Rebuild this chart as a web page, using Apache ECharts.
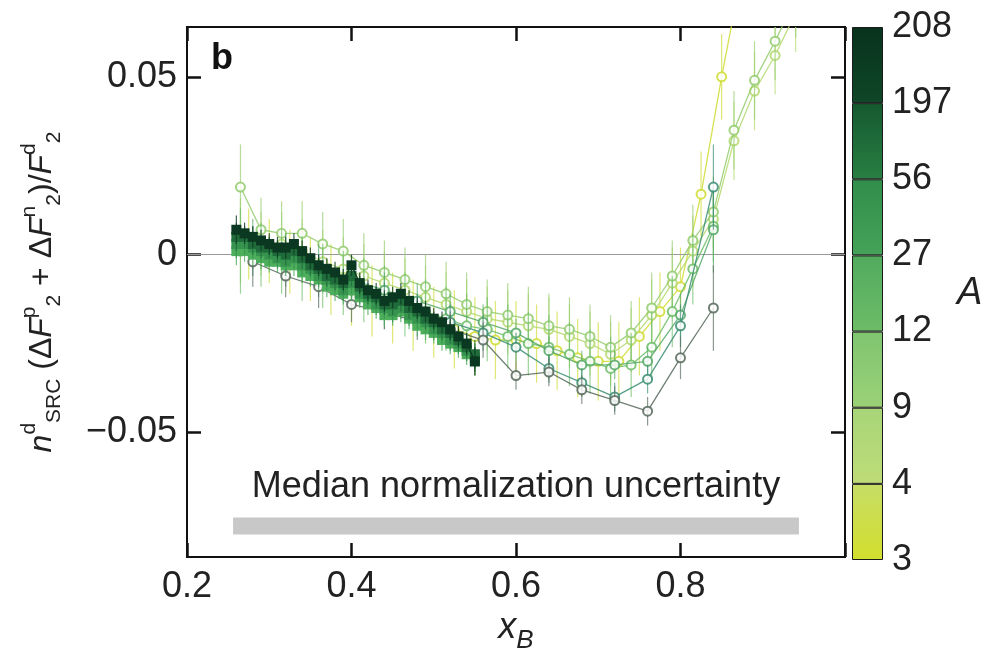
<!DOCTYPE html>
<html>
<head>
<meta charset="utf-8">
<script src="https://cdn.jsdelivr.net/npm/echarts@6/dist/echarts.min.js"></script>
<style>
  html, body { margin: 0; padding: 0; background: #fff; }
  #main { width: 987px; height: 650px; }
</style>
</head>
<body>
<div id="main"></div>
<script>
// ---- data ----
// dense data (filled squares), x_B 0.26 .. 0.55
var DENSE_X = [0.26, 0.27, 0.28, 0.29, 0.30, 0.31, 0.32, 0.33, 0.34, 0.35, 0.36, 0.37, 0.38, 0.39, 0.40,
               0.41, 0.42, 0.43, 0.44, 0.45, 0.46, 0.47, 0.48, 0.49, 0.50, 0.51, 0.52, 0.53, 0.54, 0.55];
var DENSE_208 = [0.007, 0.006, 0.005, 0.004, 0.003, 0.002, 0.002, 0.003, 0.001, -0.001, -0.003, -0.004, -0.005, -0.007, -0.003,
                 -0.008, -0.010, -0.011, -0.013, -0.012, -0.011, -0.013, -0.015, -0.016, -0.018, -0.019, -0.021, -0.023, -0.025, -0.030];
var DENSE_56 = [0.005, 0.005, 0.003, 0.002, 0.002, 0.001, 0.000, 0.001, -0.001, -0.003, -0.004, -0.006, -0.007, -0.008, -0.006,
                -0.009, -0.011, -0.012, -0.014, -0.014, -0.013, -0.015, -0.016, -0.018, -0.019, -0.021, -0.022, -0.024, -0.026, -0.028];
var DENSE_27 = [0.003, 0.003, 0.002, 0.001, 0.000, -0.001, -0.002, -0.001, -0.003, -0.004, -0.006, -0.007, -0.008, -0.010, -0.008,
                -0.011, -0.012, -0.014, -0.015, -0.016, -0.015, -0.017, -0.018, -0.019, -0.021, -0.022, -0.024, -0.025, -0.027, -0.029];
var DENSE_12 = [0.001, 0.001, 0.000, -0.001, -0.002, -0.002, -0.003, -0.003, -0.005, -0.006, -0.007, -0.009, -0.010, -0.011, -0.010,
                -0.012, -0.014, -0.015, -0.017, -0.017, -0.016, -0.018, -0.020, -0.021, -0.022, -0.024, -0.025, -0.026, -0.028, -0.030];
var DENSE_ERR = [0.004, 0.003, 0.003, 0.003, 0.003, 0.003, 0.003, 0.003, 0.003, 0.003, 0.003, 0.003, 0.003, 0.003, 0.003,
                 0.003, 0.003, 0.003, 0.003, 0.003, 0.003, 0.003, 0.003, 0.003, 0.003, 0.003, 0.003, 0.003, 0.003, 0.004];

// open circles, step 0.04
var S04_X = [0.28, 0.32, 0.36, 0.40, 0.44, 0.48, 0.52, 0.56, 0.60, 0.64, 0.68, 0.72, 0.76, 0.80, 0.84];
var S04_197 = [-0.002, -0.006, -0.009, -0.014, -0.016, -0.019, -0.021, -0.024, -0.034, -0.033, -0.038, -0.041, -0.044, -0.029, -0.015];
var S04_56 = [0.001, -0.003, -0.006, -0.010, -0.013, -0.016, -0.019, -0.022, -0.026, -0.032, -0.036, -0.040, -0.035, -0.020, 0.019];
var S04_27 = [0.003, 0.000, -0.003, -0.007, -0.010, -0.013, -0.016, -0.019, -0.022, -0.027, -0.031, -0.031, -0.030, -0.017, 0.007];
var S04_ERR = [0.007, 0.006, 0.006, 0.005, 0.005, 0.005, 0.005, 0.005, 0.004, 0.004, 0.004, 0.004, 0.004, 0.006, 0.012];

// open circles, step 0.025
var S25_X = [0.265, 0.29, 0.315, 0.34, 0.365, 0.39, 0.415, 0.44, 0.465, 0.49, 0.515, 0.54, 0.565, 0.59,
             0.615, 0.64, 0.665, 0.69, 0.715, 0.74, 0.765, 0.79, 0.815, 0.84, 0.865, 0.89, 0.915, 0.94];
var S25_4 = [0.004, 0.003, 0.003, 0.001, -0.002, -0.004, -0.006, -0.008, -0.010, -0.012, -0.014, -0.016, -0.018, -0.019,
             -0.020, -0.021, -0.023, -0.025, -0.028, -0.024, -0.017, -0.008, 0.001, 0.010, 0.032, 0.046, 0.056, 0.068];
var S25_9 = [0.019, 0.007, 0.006, 0.006, 0.003, 0.001, -0.003, -0.005, -0.007, -0.009, -0.011, -0.014, -0.016, -0.017,
             -0.018, -0.020, -0.021, -0.023, -0.026, -0.022, -0.015, -0.006, 0.004, 0.012, 0.035, 0.049, 0.060, 0.072];
var S25_12 = [0.001, 0.000, -0.002, -0.004, -0.006, -0.008, -0.010, -0.012, -0.014, -0.016, -0.018, -0.020, -0.021, -0.023,
              -0.025, -0.026, -0.028, -0.030, -0.032, -0.031, -0.026, -0.016, -0.004, 0.008];
var S25_ERR = [0.012, 0.009, 0.009, 0.009, 0.009, 0.009, 0.009, 0.009, 0.009, 0.009, 0.009, 0.009, 0.009, 0.009,
               0.009, 0.009, 0.009, 0.009, 0.009, 0.009, 0.010, 0.010, 0.010, 0.010, 0.011, 0.011, 0.011, 0.011];

// A = 3 series
var S3_X = [0.275, 0.30, 0.325, 0.35, 0.375, 0.40, 0.425, 0.45, 0.475, 0.50, 0.525, 0.55, 0.575,
            0.60, 0.625, 0.65, 0.675, 0.70, 0.725, 0.75, 0.775, 0.80, 0.825, 0.85, 0.875];
var S3_Y = [0.003, 0.001, -0.002, -0.004, -0.007, -0.010, -0.013, -0.015, -0.017, -0.019, -0.021, -0.023, -0.024,
            -0.024, -0.025, -0.027, -0.029, -0.030, -0.030, -0.023, -0.016, -0.009, 0.017, 0.050, 0.080];
var S3_ERR = [0.010, 0.009, 0.009, 0.009, 0.010, 0.010, 0.010, 0.010, 0.010, 0.010, 0.011, 0.011, 0.011,
              0.011, 0.011, 0.011, 0.011, 0.011, 0.011, 0.011, 0.011, 0.011, 0.012, 0.012, 0.012];

// normalization band: x range and y range
var BAND_X = [0.256, 0.944];
var BAND_Y = [-0.0787, -0.0739];

var Y_TICKS = [-0.05, 0, 0.05];
var X_TICK_LABELS = ['0.2', '0.4', '0.6', '0.8'];
var CB_LABELS = ['3', '4', '9', '12', '27', '56', '197', '208'];

// ---- styles ----
var FONT = 'Liberation Sans, Arial, Helvetica, sans-serif';
var CB_COLORS = [
  ['#d3df2c', '#c6dd66'],
  ['#bfdc78', '#a7d578'],
  ['#9bd177', '#7fc570'],
  ['#6dbc68', '#51ab5d'],
  ['#45a258', '#318e4b'],
  ['#287f43', '#15592f'],
  ['#0f4727', '#08321d']
];

var groups = [
  { a: 3,   x: S3_X,    y: S3_Y,      err: S3_ERR,    color: '#cfdc30', open: true },
  { a: 4,   x: S25_X,   y: S25_4,     err: S25_ERR,   color: '#b3d86d', open: true },
  { a: 9,   x: S25_X,   y: S25_9,     err: S25_ERR,   color: '#92cb6c', open: true },
  { a: 12,  x: S25_X,   y: S25_12,    err: S25_ERR,   color: '#6cbd67', open: true },
  { a: 27,  x: S04_X,   y: S04_27,    err: S04_ERR,   color: '#55a866', open: true },
  { a: 56,  x: S04_X,   y: S04_56,    err: S04_ERR,   color: '#3a8c72', open: true },
  { a: 197, x: S04_X,   y: S04_197,   err: S04_ERR,   color: '#56695b', open: true },
  { a: 12,  x: DENSE_X, y: DENSE_12,  err: DENSE_ERR, color: '#4dae5c', open: false },
  { a: 27,  x: DENSE_X, y: DENSE_27,  err: DENSE_ERR, color: '#36944f', open: false },
  { a: 56,  x: DENSE_X, y: DENSE_56,  err: DENSE_ERR, color: '#1f6b3a', open: false },
  { a: 208, x: DENSE_X, y: DENSE_208, err: DENSE_ERR, color: '#0b3820', open: false }
];

var series = [];

// zero line and normalization band (drawn first, underneath the data)
series.push({
  type: 'line',
  name: 'ref',
  xAxisIndex: 0, yAxisIndex: 0,
  data: [[BAND_X[0], BAND_Y[0]]],
  symbol: 'none',
  lineStyle: { opacity: 0 },
  z: 1,
  markLine: {
    silent: true,
    symbol: 'none',
    label: { show: false },
    lineStyle: { color: '#9a9a9a', width: 1, type: 'solid' },
    data: [{ yAxis: 0 }]
  },
  markArea: {
    silent: true,
    itemStyle: { color: '#c8c8c8' },
    label: {
      show: true,
      position: 'top',
      distance: 12,
      color: '#222',
      fontSize: 36,
      fontFamily: FONT
    },
    data: [[
      { name: 'Median normalization uncertainty', coord: [BAND_X[0], BAND_Y[1]] },
      { coord: [BAND_X[1], BAND_Y[0]] }
    ]]
  }
});

groups.forEach(function (g, gi) {
  var pts = [], bars = [];
  for (var i = 0; i < g.y.length; i++) {
    pts.push([g.x[i], g.y[i]]);
    bars.push([g.x[i], g.y[i], g.err[i]]);
  }
  var op = g.open ? 0.85 : 1;
  series.push({
    type: 'custom',
    name: 'err' + gi,
    xAxisIndex: 0, yAxisIndex: 0,
    clip: true,
    silent: true,
    z: 2 + gi * 2,
    encode: { x: 0, y: 1 },
    data: bars,
    renderItem: (function (c, o) {
      return function (params, api) {
        var x = api.value(0), y = api.value(1), e = api.value(2);
        var lo = api.coord([x, y - e]);
        var hi = api.coord([x, y + e]);
        return {
          type: 'line',
          shape: { x1: lo[0], y1: lo[1], x2: hi[0], y2: hi[1] },
          style: { stroke: c, lineWidth: 1.2, opacity: o * 0.8 }
        };
      };
    })(g.color, op)
  });
  series.push({
    type: 'line',
    name: 'A=' + g.a,
    xAxisIndex: 0, yAxisIndex: 0,
    data: pts,
    clip: true,
    z: 3 + gi * 2,
    symbol: g.open ? 'emptyCircle' : 'rect',
    symbolSize: g.open ? 9 : 10,
    showAllSymbol: true,
    lineStyle: { color: g.color, width: 1.3, opacity: op },
    itemStyle: { color: g.color, borderColor: g.color, borderWidth: g.open ? 1.2 : 0, opacity: op },
    emphasis: { disabled: true }
  });
});

// colour bar
CB_COLORS.forEach(function (c, i) {
  series.push({
    type: 'bar',
    name: 'cb' + i,
    xAxisIndex: 2, yAxisIndex: 2,
    stack: 'cb',
    barWidth: '100%',
    silent: true,
    data: [1],
    itemStyle: {
      borderColor: '#1b1b1b',
      borderWidth: 1,
      color: new echarts.graphic.LinearGradient(0, 1, 0, 0, [
        { offset: 0, color: c[0] }, { offset: 1, color: c[1] }
      ])
    }
  });
});

function axisLine() {
  return { show: true, onZero: false, lineStyle: { color: '#111', width: 2 } };
}
function xTick() {
  return { show: true, inside: true, length: 14, lineStyle: { color: '#111', width: 2.5 } };
}
function yTick() {
  return { show: true, inside: true, length: 14, customValues: Y_TICKS, lineStyle: { color: '#111', width: 2.5 } };
}
var labelStyle = { color: '#222', fontSize: 36, fontFamily: FONT };

var myChart = echarts.init(document.getElementById('main'));

var option = {
  animation: false,
  backgroundColor: '#fff',
  title: {
    text: 'b',
    left: 206,
    top: 36,
    textStyle: { fontSize: 36, fontWeight: 'bold', color: '#111', fontFamily: FONT }
  },
  grid: [
    // the frame is drawn by the grid border so all four sides always show
    { left: 187, right: 142, top: 27, bottom: 93, outerBoundsMode: 'none',
      show: true, borderColor: '#111', borderWidth: 2, backgroundColor: 'transparent' },
    { left: 852, width: 31, top: 27, bottom: 90, outerBoundsMode: 'none' }
  ],
  xAxis: [
    {
      type: 'value', gridIndex: 0, position: 'bottom',
      min: 0.2, max: 1.0, interval: 0.2,
      axisLine: axisLine(), axisTick: xTick(), splitLine: { show: false },
      axisLabel: Object.assign({
        margin: 12,
        formatter: function (v) {
          var i = Math.round((v - 0.2) / 0.2);
          return X_TICK_LABELS[i] || '';
        }
      }, labelStyle),
      name: '{it|x}{sub|B}',
      nameLocation: 'middle',
      nameGap: 50,
      nameTextStyle: {
        rich: {
          it: { fontSize: 36, fontStyle: 'italic', fontFamily: FONT, color: '#222', lineHeight: 44, verticalAlign: 'top' },
          sub: { fontSize: 26, fontStyle: 'italic', fontFamily: FONT, color: '#222', lineHeight: 44, verticalAlign: 'bottom' }
        }
      }
    },
    {
      type: 'value', gridIndex: 0, position: 'top',
      min: 0.2, max: 1.0, interval: 0.2,
      axisLine: axisLine(), axisTick: xTick(), splitLine: { show: false },
      axisLabel: { show: false }
    },
    {
      type: 'category', gridIndex: 1, data: [''],
      show: false
    }
  ],
  yAxis: [
    {
      type: 'value', gridIndex: 0, position: 'left',
      min: -0.085, max: 0.064,
      axisLine: axisLine(),
      axisTick: yTick(),
      splitLine: { show: false },
      axisLabel: Object.assign({
        customValues: Y_TICKS,
        margin: 10,
        formatter: function (v) {
          if (Math.abs(v) < 1e-9) return '0';
          return v < 0 ? '\u2212' + Math.abs(v).toFixed(2) : v.toFixed(2);
        }
      }, labelStyle),
      name: '{it|n}{sup|d}{sub|SRC} (\u0394{it|F}{sup|p}{sub|2} + \u0394{it|F}{sup|n}{sub|2})/{it|F}{sup|d}{sub|2}',
      nameLocation: 'middle',
      nameRotate: 90,
      nameGap: 122,
      nameTextStyle: {
        fontSize: 32, fontFamily: FONT, color: '#222', lineHeight: 46,
        rich: {
          it: { fontSize: 32, fontStyle: 'italic', fontFamily: FONT, color: '#222', lineHeight: 46 },
          sup: { fontSize: 21, fontFamily: FONT, color: '#222', lineHeight: 46, verticalAlign: 'top' },
          sub: { fontSize: 21, fontFamily: FONT, color: '#222', lineHeight: 46, verticalAlign: 'bottom' }
        }
      }
    },
    {
      type: 'value', gridIndex: 0, position: 'right',
      min: -0.085, max: 0.064,
      axisLine: axisLine(),
      axisTick: yTick(),
      splitLine: { show: false },
      axisLabel: { show: false }
    },
    {
      type: 'value', gridIndex: 1, position: 'right',
      min: 0, max: 7, interval: 1,
      axisLine: { show: false }, axisTick: { show: false }, splitLine: { show: false },
      axisLabel: Object.assign({
        margin: 9,
        formatter: function (v) { return CB_LABELS[v]; }
      }, labelStyle),
      name: 'A',
      nameLocation: 'middle',
      nameRotate: 0,
      nameGap: 70,
      nameTextStyle: { fontSize: 38, fontStyle: 'italic', fontFamily: FONT, color: '#222' }
    }
  ],
  series: series
};

myChart.setOption(option);
</script>
</body>
</html>
